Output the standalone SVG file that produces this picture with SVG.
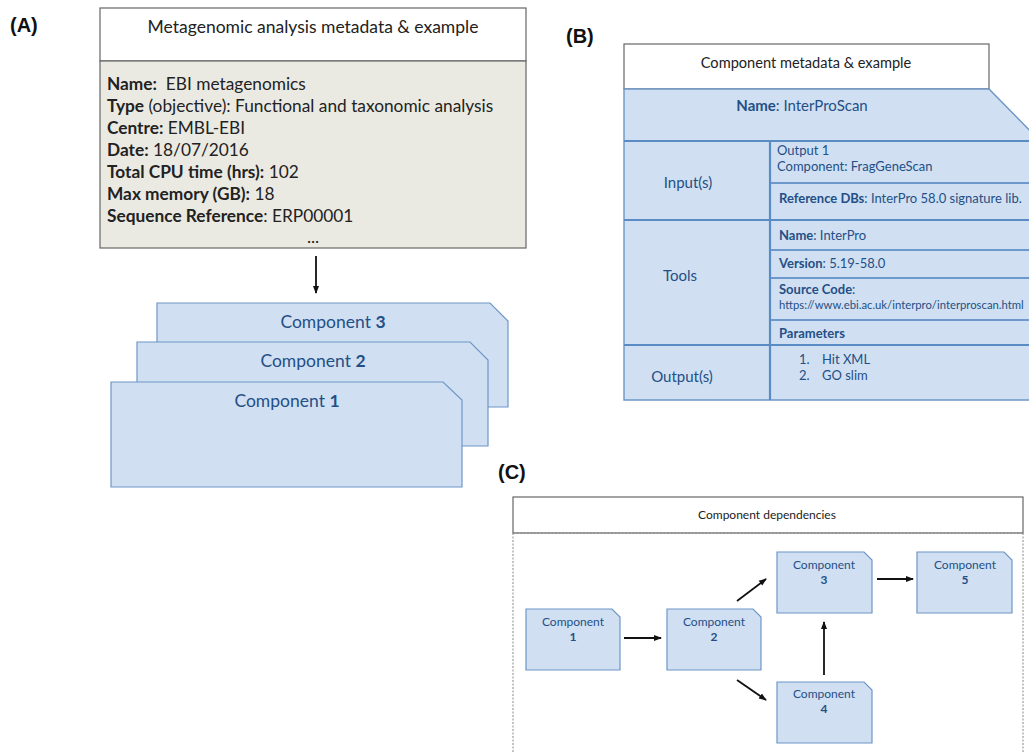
<svg xmlns="http://www.w3.org/2000/svg" width="1029" height="752" viewBox="0 0 1029 752">
<defs>
<marker id="ah" markerWidth="8" markerHeight="8" refX="7" refY="4" orient="auto" markerUnits="userSpaceOnUse">
<path d="M0,1 L8,4 L0,7 Z" fill="#111"/>
</marker>
<style>
.lbl{font-family:"Liberation Sans",Arial,sans-serif;font-weight:bold;font-size:20px;fill:#111}
.t{font-family:Lato,"Open Sans",sans-serif;fill:#222}
.b{font-weight:bold}
.blue{fill:#d0e0f2;stroke:#6d96c6;stroke-width:1.2}
.bt{font-family:Lato,"Open Sans",sans-serif;fill:#244f86}
.hdr{fill:#fff;stroke:#666;stroke-width:1.2}
.row{stroke:#5b8bc4;stroke-width:2.2;fill:none}
.row2{stroke:#6d98cb;stroke-width:1.8;fill:none}
.conn line{stroke:#111;stroke-width:1.8;marker-end:url(#ah)}
</style>
</defs>
<rect width="1029" height="752" fill="#fff"/>

<!-- Panel labels -->
<text class="lbl" x="10" y="32">(A)</text>
<text class="lbl" x="566" y="43">(B)</text>
<text class="lbl" x="498" y="479">(C)</text>

<!-- Panel A -->
<g id="a-metadata">
<rect class="hdr" x="100" y="8" width="426" height="53"/>
<text class="t" x="313" y="33" font-size="17.5" text-anchor="middle">Metagenomic analysis metadata &amp; example</text>
<rect x="100" y="61" width="426" height="187" fill="#ebeae2" stroke="#666" stroke-width="1.2"/>
<g class="t" font-size="17.3">
<text x="107" y="90"><tspan class="b">Name:</tspan>&#160; EBI metagenomics</text>
<text x="107" y="112"><tspan class="b">Type</tspan> (objective): Functional and taxonomic analysis</text>
<text x="107" y="134"><tspan class="b">Centre:</tspan> EMBL-EBI</text>
<text x="107" y="156"><tspan class="b">Date:</tspan> 18/07/2016</text>
<text x="107" y="178"><tspan class="b">Total CPU time (hrs):</tspan> 102</text>
<text x="107" y="200"><tspan class="b">Max memory (GB):</tspan> 18</text>
<text x="107" y="222"><tspan class="b">Sequence Reference</tspan>: ERP00001</text>
<text x="313" y="243" text-anchor="middle">...</text>
</g>
</g>

<g id="a-component3">
<path class="blue" d="M157,303 H490 L508,321 V407 H157 Z"/>
<text class="bt" x="333" y="328" font-size="17.5" text-anchor="middle">Component <tspan class="b">3</tspan></text>
</g>
<g id="a-component2">
<path class="blue" d="M137,342 H470 L488,360 V446 H137 Z"/>
<text class="bt" x="313" y="367" font-size="17.5" text-anchor="middle">Component <tspan class="b">2</tspan></text>
</g>
<g id="a-component1">
<path class="blue" d="M111,382 H443 L462,400 V487 H111 Z"/>
<text class="bt" x="287" y="407" font-size="17.5" text-anchor="middle">Component <tspan class="b">1</tspan></text>
</g>

<!-- Panel B -->
<g id="b-component-metadata">
<rect class="hdr" x="624" y="44" width="365" height="45"/>
<text class="t" x="806" y="68" font-size="14.6" text-anchor="middle">Component metadata &amp; example</text>
<path d="M624,89 H989 L1036,137 V400 H624 Z" fill="#d0e0f2" stroke="#6d96c6" stroke-width="1.4"/>
<line class="row" x1="624" y1="141" x2="1029" y2="141"/>
<line class="row" x1="624" y1="220" x2="1029" y2="220"/>
<line class="row" x1="624" y1="345" x2="1029" y2="345"/>
<line class="row2" x1="770" y1="183" x2="1029" y2="183"/>
<line class="row2" x1="770" y1="250" x2="1029" y2="250"/>
<line class="row2" x1="770" y1="278" x2="1029" y2="278"/>
<line class="row2" x1="770" y1="320" x2="1029" y2="320"/>
<line class="row" x1="770" y1="141" x2="770" y2="400"/>
<g class="bt">
<text x="802" y="111" font-size="15" text-anchor="middle"><tspan class="b">Name</tspan>: InterProScan</text>
<text x="688" y="188" font-size="15" text-anchor="middle">Input(s)</text>
<text x="680" y="281" font-size="15" text-anchor="middle">Tools</text>
<text x="682" y="382" font-size="15" text-anchor="middle">Output(s)</text>
<text x="777" y="155" font-size="13">Output 1</text>
<text x="777" y="171" font-size="13">Component: FragGeneScan</text>
<text x="779" y="203" font-size="13"><tspan class="b">Reference DBs</tspan>: InterPro 58.0 signature lib.</text>
<text x="779" y="240" font-size="13"><tspan class="b">Name</tspan>: InterPro</text>
<text x="779" y="268" font-size="13"><tspan class="b">Version</tspan>: 5.19-58.0</text>
<text x="779" y="294" font-size="13"><tspan class="b">Source Code</tspan>:</text>
<text x="779" y="309" font-size="11.3">https://www.ebi.ac.uk/interpro/interproscan.html</text>
<text x="779" y="338" font-size="13" class="b">Parameters</text>
<text x="799" y="364" font-size="13">1.</text>
<text x="822" y="364" font-size="13">Hit XML</text>
<text x="799" y="380" font-size="13">2.</text>
<text x="822" y="380" font-size="13">GO slim</text>
</g>
</g>

<!-- Panel C -->
<g id="c-frame">
<rect class="hdr" x="513" y="497" width="510" height="36"/>
<text class="t" x="767" y="519" font-size="12" text-anchor="middle">Component dependencies</text>
<path d="M513,533 V752 M1023,533 V752 M513,533 H1023" fill="none" stroke="#888" stroke-width="1" stroke-dasharray="2,1.5"/>
</g>
<g id="c-component1">
<path class="blue" d="M526,609 H612 L620,617 V670 H526 Z"/>
<text class="bt" x="573" y="626" font-size="12" text-anchor="middle">Component</text>
<text class="bt b" x="573" y="641" font-size="12" text-anchor="middle">1</text>
</g>
<g id="c-component2">
<path class="blue" d="M667,609 H753 L761,617 V670 H667 Z"/>
<text class="bt" x="714" y="626" font-size="12" text-anchor="middle">Component</text>
<text class="bt b" x="714" y="641" font-size="12" text-anchor="middle">2</text>
</g>
<g id="c-component3">
<path class="blue" d="M777,552 H864 L872,560 V613 H777 Z"/>
<text class="bt" x="824" y="569" font-size="12" text-anchor="middle">Component</text>
<text class="bt b" x="824" y="584" font-size="12" text-anchor="middle">3</text>
</g>
<g id="c-component4">
<path class="blue" d="M777,682 H864 L872,690 V743 H777 Z"/>
<text class="bt" x="824" y="698" font-size="12" text-anchor="middle">Component</text>
<text class="bt b" x="824" y="713" font-size="12" text-anchor="middle">4</text>
</g>
<g id="c-component5">
<path class="blue" d="M917,552 H1004 L1012,560 V613 H917 Z"/>
<text class="bt" x="965" y="569" font-size="12" text-anchor="middle">Component</text>
<text class="bt b" x="965" y="584" font-size="12" text-anchor="middle">5</text>
</g>

<!-- Connectors -->
<g id="connectors" class="conn">
<line x1="316" y1="256" x2="316" y2="293"/>
<line x1="624" y1="638" x2="661" y2="638"/>
<line x1="737" y1="601" x2="766" y2="579"/>
<line x1="737" y1="680" x2="766" y2="700"/>
<line x1="824" y1="675" x2="824" y2="622"/>
<line x1="877" y1="579" x2="913" y2="579"/>
</g>
</svg>
